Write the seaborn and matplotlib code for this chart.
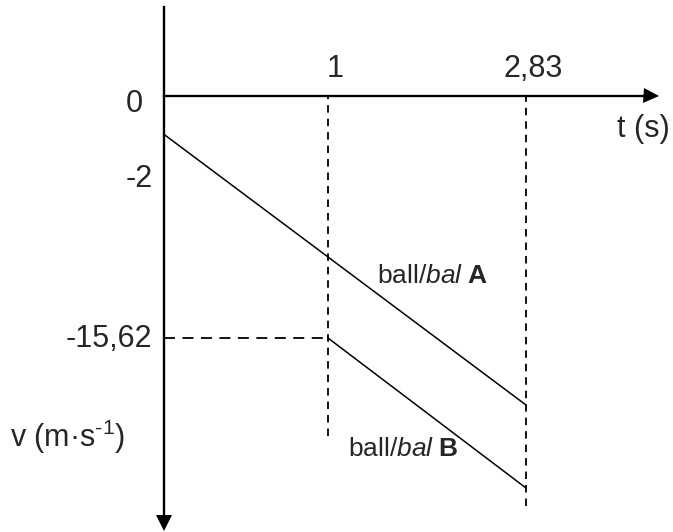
import numpy as np
import pandas as pd
import matplotlib
matplotlib.use("Agg")
import matplotlib.pyplot as plt
import seaborn as sns

# values (v-t graph of two balls)
ball_a_t = [0, 2.83]
ball_a_v = [-2, -29.73]
ball_b_t = [1, 2.83]
ball_b_v = [-15.62, -33.55]

t_ticks = [1, 2.83]
t_labels = ["1", "2,83"]
v_ticks = [0, -2, -15.62]
v_labels = ["0", "-2", "-15,62"]

# the sketch is not drawn to scale, so each axis gets a piecewise scale
# (value -> pixel position in the 673x532 picture)
W, H = 673, 532
T_KNOTS = [0, 1, 2.83]
T_PIX = [163.5, 328, 526]
V_KNOTS = [-33.55, -29.73, -15.62, -2, 0]
V_PIX = [488, 405, 338, 134, 96]

# label offsets in pixels
T_LABEL_OFFSET = (7, 19)
V_LABEL_DX = [-20.5, -10.5, -11.5]
V_LABEL_DY = [-16, -53, -9]
GUIDE_BOTTOM_PIX = [436, 506]


def piecewise(xs, ys):
    xs = np.asarray(xs, float)
    ys = np.asarray(ys, float)
    lo = (ys[1] - ys[0]) / (xs[1] - xs[0])
    hi = (ys[-1] - ys[-2]) / (xs[-1] - xs[-2])

    def f(v):
        v = np.asarray(v, float)
        out = np.interp(v, xs, ys)
        out = np.where(v < xs[0], ys[0] + (v - xs[0]) * lo, out)
        out = np.where(v > xs[-1], ys[-1] + (v - xs[-1]) * hi, out)
        return out
    return f


fwd_x = piecewise(T_KNOTS, T_PIX)
inv_x = piecewise(T_PIX, T_KNOTS)
neg_vpix = [-p for p in V_PIX]
fwd_y = piecewise(V_KNOTS, neg_vpix)
inv_y = piecewise(neg_vpix, V_KNOTS)

sns.set_theme(style="white")
plt.rcParams["font.family"] = ["Liberation Sans", "DejaVu Sans"]
plt.rcParams["mathtext.fontset"] = "custom"
plt.rcParams["mathtext.rm"] = "Liberation Sans"
plt.rcParams["mathtext.it"] = "Liberation Sans:italic"
plt.rcParams["mathtext.bf"] = "Liberation Sans:bold"
plt.rcParams["lines.scale_dashes"] = False

df = pd.DataFrame({
    "t": ball_a_t + ball_b_t,
    "v": ball_a_v + ball_b_v,
    "ball": ["A"] * len(ball_a_t) + ["B"] * len(ball_b_t),
})

fig = plt.figure(figsize=(W / 100, H / 100), dpi=100)
ax = fig.add_axes([0, 0, 1, 1])
ax.set_xscale("function", functions=(fwd_x, inv_x))
ax.set_yscale("function", functions=(fwd_y, inv_y))

sns.lineplot(data=df, x="t", y="v", units="ball", estimator=None,
             color="black", lw=1.1, ax=ax)

ax.set_xlim(float(inv_x(0)), float(inv_x(W)))
ax.set_ylim(float(inv_y(-H)), float(inv_y(0)))
ax.set(xlabel="", ylabel="", xticks=[], yticks=[])

# axes through the origin, with arrow heads
for side in ["top", "right"]:
    ax.spines[side].set_visible(False)
for side in ["left", "bottom"]:
    ax.spines[side].set_position(("data", 0))
    ax.spines[side].set_color("black")
    ax.spines[side].set_linewidth(1.7)
ax.spines["left"].set_bounds(float(inv_y(-522)), float(inv_y(-7)))
ax.spines["bottom"].set_bounds(0, float(inv_x(650)))
ax.plot([float(inv_x(650.5))], [0], marker=">", ms=10.8, mew=0,
        color="black", clip_on=False)
ax.plot([0], [float(inv_y(-522.5))], marker="v", ms=11.2, mew=0,
        color="black", clip_on=False)

# dashed guides
guide_bottom = [float(inv_y(-p)) for p in GUIDE_BOTTOM_PIX]
ax.vlines(t_ticks, guide_bottom, 0, colors="black", lw=1.3,
          linestyles=[(0, (5.4, 4.3))])
ax.hlines(ball_b_v[0], 0, ball_b_t[0], colors="black", lw=1.3,
          linestyles=[(0, (7.9, 5.4))])

# tick labels
for t, lab in zip(t_ticks, t_labels):
    ax.annotate(lab, (t, 0), xytext=T_LABEL_OFFSET, textcoords="offset pixels",
                ha="center", va="baseline", fontsize=22)
for v, lab, dx, dy in zip(v_ticks, v_labels, V_LABEL_DX, V_LABEL_DY):
    ax.annotate(lab, (0, v), xytext=(dx, dy), textcoords="offset pixels",
                ha="right", va="baseline", fontsize=22)

# axis titles and line labels
ax.annotate("t (s)", (617, H - 137), xycoords="figure pixels",
            ha="left", va="baseline", fontsize=22)
ax.annotate(r"v (m·s$^{\text{-1}}$)", (10, H - 447), xycoords="figure pixels",
            ha="left", va="baseline", fontsize=22)
ax.annotate(r"ball/$\mathit{bal}$ $\mathbf{A}$", (377, H - 283),
            xycoords="figure pixels", ha="left", va="baseline", fontsize=19)
ax.annotate(r"ball/$\mathit{bal}$ $\mathbf{B}$", (348, H - 456),
            xycoords="figure pixels", ha="left", va="baseline", fontsize=19)

fig.savefig("out.png", dpi=100)
plt.close(fig)
